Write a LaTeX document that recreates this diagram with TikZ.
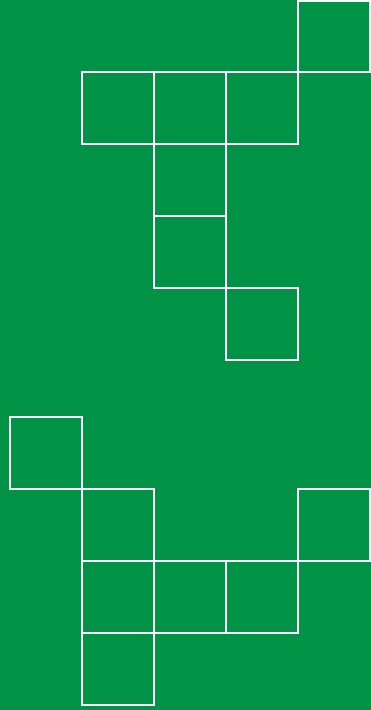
\documentclass[tikz,border=0pt]{standalone}
\definecolor{bggreen}{HTML}{009245}
\tikzset{cell/.style={draw=white,line width=1.3pt}}
\begin{document}
\begin{tikzpicture}[x=1pt,y=-1pt]
\fill[bggreen] (0,0) rectangle (371,710);
\useasboundingbox (0,0) rectangle (371,710);
% top group
\draw[cell] (298,1) rectangle (370,72);
\draw[cell] (82,72) rectangle (154,144);
\draw[cell] (154,72) rectangle (226,144);
\draw[cell] (226,72) rectangle (298,144);
\draw[cell] (154,144) rectangle (226,216);
\draw[cell] (154,216) rectangle (226,288);
\draw[cell] (226,288) rectangle (298,360);
% bottom group
\draw[cell] (10,417) rectangle (82,489);
\draw[cell] (82,489) rectangle (154,561);
\draw[cell] (298,489) rectangle (370,561);
\draw[cell] (82,561) rectangle (154,633);
\draw[cell] (154,561) rectangle (226,633);
\draw[cell] (226,561) rectangle (298,633);
\draw[cell] (82,633) rectangle (154,705);
\end{tikzpicture}
\end{document}
